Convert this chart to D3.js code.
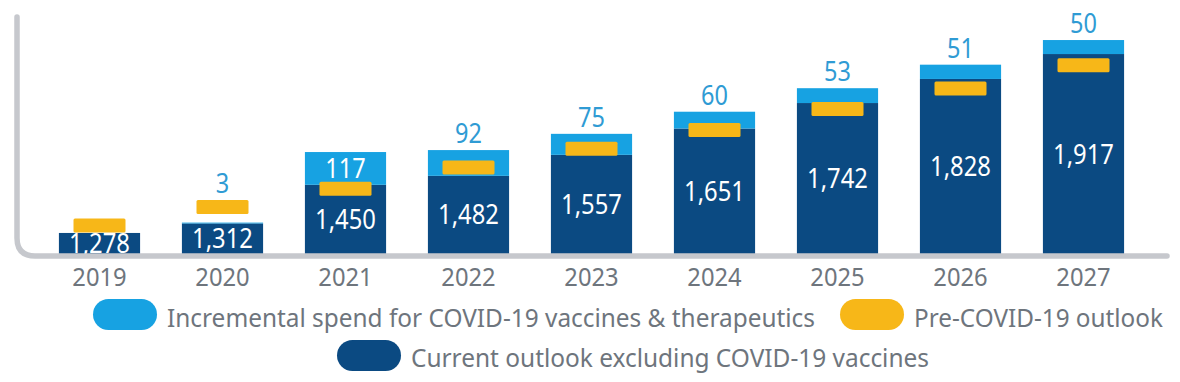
<!DOCTYPE html>
<html>
<head>
<meta charset="utf-8">
<script src="https://cdn.jsdelivr.net/npm/d3@7"></script>
<style>
  html, body { margin: 0; padding: 0; background: #ffffff; }
  svg { display: block; }
  text { font-family: "Noto Sans", "Open Sans", sans-serif; }
</style>
</head>
<body>
<svg id="chart" width="1180" height="382"></svg>
<script>
// ---- data ----
const years = ["2019", "2020", "2021", "2022", "2023", "2024", "2025", "2026", "2027"];
const currentOutlook = [1278, 1312, 1450, 1482, 1557, 1651, 1742, 1828, 1917];
const incrementalCovid = [null, 3, 117, 92, 75, 60, 53, 51, 50];
const preCovidOutlook = [1305, 1371, 1436, 1512, 1579, 1646, 1721, 1794, 1877];
const legendLabels = [
  "Incremental spend for COVID-19 vaccines & therapeutics",
  "Pre-COVID-19 outlook",
  "Current outlook excluding COVID-19 vaccines"
];

// ---- style ----
const C_DARK = "#0b4a82";
const C_LIGHT = "#17a2e2";
const C_LIGHT_TXT = "#2f9bd4";
const C_YELLOW = "#f7b718";
const C_AXIS = "#c6c8cd";
const C_TEXT = "#6e757d";
const fmt = d3.format(",");

const svg = d3.select("#chart");

const x = d3.scaleBand().domain(years).range([38, 1145]).paddingInner(0.34).paddingOuter(0.17);
const y = d3.scaleLinear().domain([1200, 2000]).range([254.8, 30.8]);

const rows = years.map((yr, i) => ({
  year: yr,
  cur: currentOutlook[i],
  inc: incrementalCovid[i] || 0,
  incLabel: incrementalCovid[i],
  pre: preCovidOutlook[i]
}));

function squeeze(sel, ratio) {
  sel.each(function () {
    const w = this.getComputedTextLength();
    d3.select(this).attr("textLength", w * ratio).attr("lengthAdjust", "spacingAndGlyphs");
  });
}

const g = svg.append("g");

// dark bars
g.selectAll("rect.cur").data(rows).join("rect")
  .attr("class", "cur")
  .attr("x", d => x(d.year))
  .attr("width", x.bandwidth())
  .attr("y", d => y(d.cur))
  .attr("height", d => y(1200) - y(d.cur))
  .attr("fill", C_DARK);

// light incremental segments
g.selectAll("rect.inc").data(rows.filter(d => d.inc > 0)).join("rect")
  .attr("class", "inc")
  .attr("x", d => x(d.year))
  .attr("width", x.bandwidth())
  .attr("y", d => y(d.cur + d.inc))
  .attr("height", d => y(d.cur) - y(d.cur + d.inc))
  .attr("fill", C_LIGHT);

// pre-covid markers
const mW = 52, mH = 14;
g.selectAll("rect.pre").data(rows).join("rect")
  .attr("class", "pre")
  .attr("x", d => x(d.year) + x.bandwidth() / 2 - mW / 2)
  .attr("width", mW)
  .attr("y", d => y(d.pre) - mH / 2)
  .attr("height", mH)
  .attr("rx", 1.5)
  .attr("fill", C_YELLOW);

// axis (rounded corner L)
const r = 18;
svg.append("path")
  .attr("d", `M17,17 V${256 - r} Q17,256 ${17 + r},256 H1167`)
  .attr("fill", "none")
  .attr("stroke", C_AXIS)
  .attr("stroke-width", 5.5)
  .attr("stroke-linecap", "round");

// dark value labels
g.selectAll("text.cur").data(rows).join("text")
  .attr("class", "cur")
  .attr("x", d => x(d.year) + x.bandwidth() / 2)
  .attr("y", d => (y(d.cur) + y(1200)) / 2 - 1)
  .attr("dy", "0.36em")
  .attr("text-anchor", "middle")
  .attr("font-size", 28)
  .attr("fill", "#ffffff")
  .text(d => fmt(d.cur))
  .call(squeeze, 0.85);

// incremental labels
g.selectAll("text.inc").data(rows.filter(d => d.incLabel != null)).join("text")
  .attr("class", "inc")
  .attr("text-anchor", "middle")
  .attr("font-size", 27)
  .attr("x", d => x(d.year) + x.bandwidth() / 2)
  .each(function (d) {
    const segH = y(d.cur) - y(d.cur + d.inc);
    const t = d3.select(this);
    if (segH > 30) {
      t.attr("y", (y(d.cur) + y(d.cur + d.inc)) / 2).attr("dy", "0.36em").attr("fill", "#ffffff");
    } else {
      const top = Math.min(y(d.cur + d.inc), y(d.pre) - mH / 2);
      t.attr("y", top - 7).attr("fill", C_LIGHT_TXT);
    }
  })
  .text(d => fmt(d.incLabel))
  .call(squeeze, 0.87);

// year labels
svg.append("g").selectAll("text").data(years).join("text")
  .attr("x", d => x(d) + x.bandwidth() / 2)
  .attr("y", 286)
  .attr("text-anchor", "middle")
  .attr("font-size", 25)
  .attr("fill", C_TEXT)
  .text(d => d)
  .call(squeeze, 0.95);

// legend
const legend = [
  { label: legendLabels[0], color: C_LIGHT, px: 93, py: 299, tx: 167, ty: 327, tw: 648 },
  { label: legendLabels[1], color: C_YELLOW, px: 840, py: 299, tx: 914, ty: 327, tw: 249 },
  { label: legendLabels[2], color: C_DARK, px: 337, py: 340, tx: 411, ty: 367, tw: 518 }
];
const lg = svg.append("g").selectAll("g").data(legend).join("g");
lg.append("rect")
  .attr("x", d => d.px).attr("y", d => d.py)
  .attr("width", 64).attr("height", 31).attr("rx", 15.5)
  .attr("fill", d => d.color);
lg.append("text")
  .attr("x", d => d.tx).attr("y", d => d.ty)
  .attr("font-size", 25)
  .attr("fill", C_TEXT)
  .attr("textLength", d => d.tw)
  .attr("lengthAdjust", "spacingAndGlyphs")
  .text(d => d.label);
</script>
</body>
</html>
